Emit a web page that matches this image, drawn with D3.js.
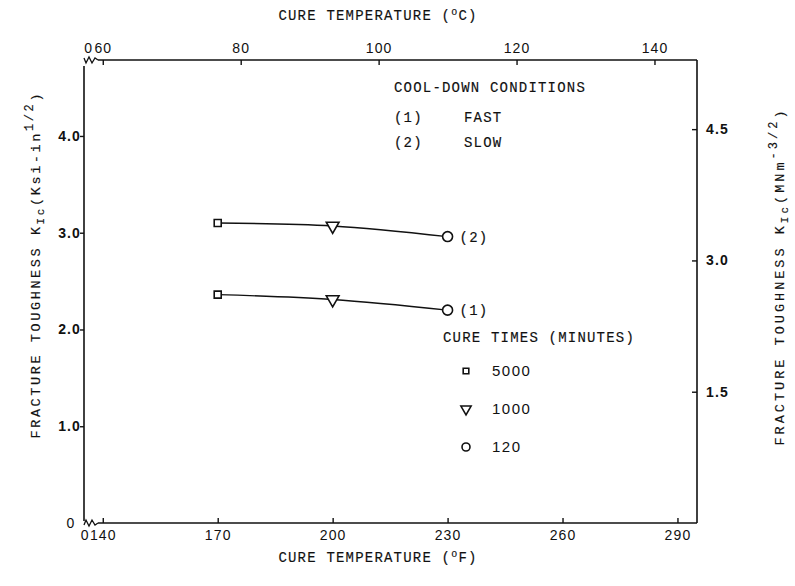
<!DOCTYPE html>
<html>
<head>
<meta charset="utf-8">
<script src="https://cdn.jsdelivr.net/npm/d3@7"></script>
<style>
  body { margin: 0; background: #fff; }
  svg { display: block; }
  .mono { font-family: "Liberation Mono", "Courier New", monospace; fill: #111; stroke: #111; stroke-width: 0.15; }
  .num { font-family: "Liberation Sans", Arial, sans-serif; fill: #111; }
</style>
</head>
<body>
<svg id="chart" width="795" height="586"></svg>
<script>
// values
const tempF = [170, 200, 230];
const markerKind = ['square', 'triangle', 'circle'];
const fastKic = [2.36, 2.31, 2.20];
const slowKic = [3.10, 3.07, 2.96];
const cureTimes = ['5000', '1000', '120'];
const ticksF = [140, 170, 200, 230, 260, 290];
const ticksC = [60, 80, 100, 120, 140];
const ticksKsi = [1.0, 2.0, 3.0, 4.0];
const ticksMpa = [1.5, 3.0, 4.5];

const box = { left: 84, right: 697, top: 60, bottom: 523 };
const fDomain = [135.1, 295.1];
const toC = (f) => (f - 32) * 5 / 9;
const ksiMax = 4.785;
const mpaMax = 5.29;

const svg = d3.select('#chart');
const ink = '#111';

const x = d3.scaleLinear().domain(fDomain).range([box.left, box.right]);
const xC = d3.scaleLinear().domain(fDomain.map(toC)).range([box.left, box.right]);
const y = d3.scaleLinear().domain([0, ksiMax]).range([box.bottom, box.top]);
const yR = d3.scaleLinear().domain([0, mpaMax]).range([box.bottom, box.top]);

// frame, with the little broken-axis wiggles near the origin
const frame = svg.append('g').attr('fill', 'none').attr('stroke', ink).attr('stroke-width', 1.6);
frame.append('path').attr('d', `M${box.left},${box.top + 6}V${box.bottom - 2}`);
frame.append('path').attr('d', `M${box.right},${box.top}V${box.bottom}`);
frame.append('path').attr('d', `M${box.left + 14},${box.bottom}H${box.right}`);
frame.append('path').attr('d', `M${box.left + 14},${box.top}H${box.right}`);
const wiggle = (yy, s) =>
  `M${box.left},${yy + s * 2} L${box.left + 2},${yy - s * 3} L${box.left + 5},${yy + s * 3} L${box.left + 8},${yy - s * 3} L${box.left + 11},${yy + s * 2} L${box.left + 14},${yy}`;
frame.append('path').attr('d', wiggle(box.bottom, 1)).attr('stroke-width', 1.3);
frame.append('path').attr('d', wiggle(box.top, -1)).attr('stroke-width', 1.3);

// axes: ticks only, labels drawn separately
const tickStyle = (g) => {
  g.select('.domain').remove();
  g.selectAll('.tick line').attr('stroke', ink).attr('stroke-width', 1.4);
  g.selectAll('.tick text').remove();
};
svg.append('g').attr('transform', `translate(0,${box.bottom})`)
  .call(d3.axisTop(x).tickValues(ticksF).tickSize(5)).call(tickStyle);
svg.append('g').attr('transform', `translate(0,${box.top})`)
  .call(d3.axisBottom(xC).tickValues(ticksC).tickSize(5)).call(tickStyle);
svg.append('g').attr('transform', `translate(${box.left},0)`)
  .call(d3.axisLeft(y).tickValues(ticksKsi).tickSize(4)).call(tickStyle);
svg.append('g').attr('transform', `translate(${box.right},0)`)
  .call(d3.axisLeft(yR).tickValues(ticksMpa).tickSize(5)).call(tickStyle);

// tick labels
const num = (g, size = 14) => g.attr('class', 'num').attr('font-size', size).attr('letter-spacing', 1.1);
svg.append('g').selectAll('text').data(ticksF).join('text').call(num)
  .attr('x', (d) => x(d) + 0.5).attr('y', box.bottom + 17).attr('text-anchor', 'middle').text((d) => d);
svg.append('g').selectAll('text').data(ticksC).join('text').call(num)
  .attr('x', (d) => xC(d) + 0.5).attr('y', box.top - 7).attr('text-anchor', 'middle').text((d) => d);
svg.append('text').call(num).attr('letter-spacing', 0).attr('x', box.left + 4.5).attr('y', box.bottom + 17).attr('text-anchor', 'end').text('0');
svg.append('text').call(num).attr('letter-spacing', 0).attr('x', box.left + 8).attr('y', box.top - 7).attr('text-anchor', 'end').text('0');
svg.append('g').selectAll('text').data(ticksKsi).join('text').call(num)
  .attr('font-weight', 'bold')
  .attr('x', box.left - 3).attr('y', (d) => y(d) + 5).attr('text-anchor', 'end').text((d) => d.toFixed(1));
svg.append('text').call(num).attr('x', 71).attr('y', box.bottom + 5).attr('text-anchor', 'middle').text('0');
svg.append('g').selectAll('text').data(ticksMpa).join('text').call(num)
  .attr('font-weight', 'bold')
  .attr('x', box.right + 9).attr('y', (d) => yR(d) + 5).text((d) => d.toFixed(1));

// axis titles
const mono = (t, size = 14) => t.attr('class', 'mono').attr('font-size', size).attr('letter-spacing', 1.2);
const topTitle = svg.append('text').call(mono).attr('x', 378).attr('y', 20).attr('text-anchor', 'middle');
topTitle.append('tspan').text('CURE TEMPERATURE (');
topTitle.append('tspan').attr('font-size', 10).attr('dy', -5).text('o');
topTitle.append('tspan').attr('dy', 5).text('C)');
const botTitle = svg.append('text').call(mono).attr('x', 378).attr('y', 562).attr('text-anchor', 'middle');
botTitle.append('tspan').text('CURE TEMPERATURE (');
botTitle.append('tspan').attr('font-size', 10).attr('dy', -5).text('o');
botTitle.append('tspan').attr('dy', 5).text('F)');

function sideTitle(cx, cy, len, unit, power) {
  const t = svg.append('text').call(mono, 13.5).attr('letter-spacing', null)
    .attr('textLength', len).attr('lengthAdjust', 'spacing')
    .attr('transform', `translate(${cx},${cy}) rotate(-90)`).attr('text-anchor', 'middle');
  t.append('tspan').text('FRACTURE TOUGHNESS K');
  t.append('tspan').attr('font-size', 11).attr('dy', 4).text('Ic');
  t.append('tspan').attr('dy', -4).text(`(${unit}`);
  t.append('tspan').attr('font-size', 12).attr('dy', -7).text(power);
  t.append('tspan').attr('dy', 7).text(')');
}
sideTitle(40, 266, 345, 'Ksi-in', '1/2');
sideTitle(784, 278, 335, 'MNm', '-3/2');

// markers
const symbols = {
  square: d3.symbol(d3.symbolSquare, 49),
  triangle: d3.symbol(d3.symbolTriangle, 70),
  circle: d3.symbol(d3.symbolCircle, 78)
};
function marker(g, kind, cx, cy, scale = 1) {
  const rot = kind === 'triangle' ? ' rotate(180)' : '';
  g.append('path').attr('d', symbols[kind]())
    .attr('transform', `translate(${cx},${cy})${rot} scale(${scale})`)
    .attr('fill', '#fff').attr('stroke', ink).attr('stroke-width', 1.6 / scale);
}

const line = d3.line().x((d) => x(d[0])).y((d) => y(d[1])).curve(d3.curveNatural);
const plot = svg.append('g');
[[fastKic, '(1)'], [slowKic, '(2)']].forEach(([vals, tag]) => {
  const pts = tempF.map((f, i) => [f, vals[i]]);
  plot.append('path').attr('d', line(pts)).attr('fill', 'none').attr('stroke', ink).attr('stroke-width', 1.4);
  pts.forEach((p, i) => marker(plot, markerKind[i], x(p[0]), y(p[1])));
  svg.append('text').call(mono).attr('x', x(tempF[2]) + 12).attr('y', y(vals[2]) + 5).text(tag);
});

// legends
svg.append('text').call(mono).attr('x', 394).attr('y', 92).text('COOL-DOWN CONDITIONS');
svg.append('text').call(mono).attr('x', 394).attr('y', 122).text('(1)');
svg.append('text').call(mono).attr('x', 464).attr('y', 122).text('FAST');
svg.append('text').call(mono).attr('x', 394).attr('y', 147).text('(2)');
svg.append('text').call(mono).attr('x', 464).attr('y', 147).text('SLOW');

svg.append('text').call(mono).attr('x', 443).attr('y', 342).text('CURE TIMES (MINUTES)');
const legendY = [371, 409, 447];
cureTimes.forEach((c, i) => {
  marker(svg, markerKind[i], 466, legendY[i], 0.8);
  svg.append('text').call(num, 15).attr('letter-spacing', 1.5).attr('x', 492).attr('y', legendY[i] + 5).text(c);
});
</script>
</body>
</html>
